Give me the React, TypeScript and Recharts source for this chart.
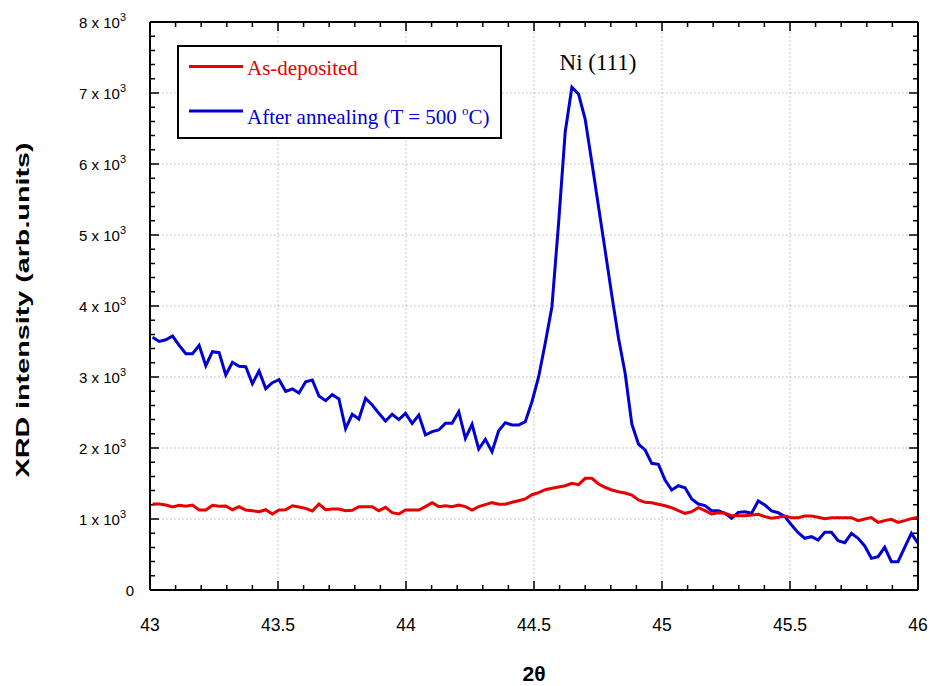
import { LineChart, Line, XAxis, YAxis, Legend, ReferenceDot } from "recharts";

const RED = "#e60000";
const BLUE = "#0000d2";
const SANS = '"Liberation Sans", Arial, sans-serif';
const SERIF = '"Liberation Serif", "Times New Roman", serif';

// 2-theta positions (deg), step ~0.026
const theta = [
  43.010, 43.036, 43.062, 43.088, 43.114, 43.140, 43.166, 43.192, 43.218, 43.244,
  43.270, 43.296, 43.322, 43.348, 43.374, 43.400, 43.426, 43.452, 43.478, 43.504,
  43.530, 43.556, 43.582, 43.608, 43.634, 43.660, 43.686, 43.712, 43.738, 43.764,
  43.790, 43.816, 43.842, 43.868, 43.894, 43.920, 43.946, 43.972, 43.998, 44.024,
  44.050, 44.076, 44.102, 44.128, 44.154, 44.180, 44.206, 44.232, 44.258, 44.284,
  44.310, 44.336, 44.362, 44.388, 44.414, 44.440, 44.466, 44.492, 44.518, 44.544,
  44.570, 44.596, 44.622, 44.648, 44.674, 44.700, 44.726, 44.752, 44.778, 44.804,
  44.830, 44.856, 44.882, 44.908, 44.934, 44.960, 44.986, 45.012, 45.038, 45.064,
  45.090, 45.116, 45.142, 45.168, 45.194, 45.220, 45.246, 45.272, 45.298, 45.324,
  45.350, 45.376, 45.402, 45.428, 45.454, 45.480, 45.506, 45.532, 45.558, 45.584,
  45.610, 45.636, 45.662, 45.688, 45.714, 45.740, 45.766, 45.792, 45.818, 45.844,
  45.870, 45.896, 45.922, 45.948, 45.974, 46.000,
];

const asDeposited = [
  1211, 1211, 1197, 1169, 1193, 1179, 1197, 1127, 1127, 1193,
  1179, 1183, 1131, 1174, 1127, 1117, 1103, 1131, 1070, 1127,
  1131, 1187, 1169, 1150, 1113, 1211, 1131, 1141, 1141, 1117,
  1122, 1174, 1174, 1174, 1117, 1164, 1089, 1070, 1127, 1127,
  1127, 1174, 1230, 1174, 1187, 1174, 1197, 1174, 1127, 1174,
  1202, 1230, 1207, 1207, 1235, 1258, 1282, 1342, 1371, 1413,
  1432, 1451, 1469, 1503, 1483, 1573, 1573, 1493, 1446, 1409,
  1385, 1366, 1338, 1268, 1235, 1230, 1207, 1187, 1159, 1117,
  1080, 1103, 1159, 1117, 1070, 1089, 1080, 1047, 1047, 1047,
  1056, 1066, 1033, 1010, 1024, 1042, 1019, 1019, 1042, 1042,
  1024, 1005, 1019, 1019, 1019, 1019, 977, 1000, 1019, 953,
  977, 996, 953, 977, 1005, 1024,
];

const annealed = [
  3559, 3500, 3525, 3577, 3446, 3328, 3328, 3446, 3160, 3357,
  3343, 3028, 3207, 3151, 3146, 2906, 3085, 2836, 2920, 2962,
  2798, 2831, 2775, 2934, 2958, 2732, 2667, 2751, 2690, 2272,
  2475, 2408, 2700, 2606, 2488, 2380, 2475, 2400, 2488, 2347,
  2465, 2183, 2230, 2254, 2347, 2347, 2512, 2136, 2334, 1986,
  2122, 1948, 2244, 2357, 2324, 2324, 2371, 2652, 3000, 3480,
  3990, 5165, 6455, 7081, 6986, 6630, 6020, 5400, 4780, 4150,
  3550, 3052, 2338, 2056, 1972, 1784, 1770, 1549, 1409, 1469,
  1441, 1282, 1211, 1188, 1117, 1117, 1080, 1010, 1094, 1103,
  1080, 1254, 1197, 1113, 1089, 1033, 916, 807, 728, 751,
  704, 812, 812, 694, 666, 798, 728, 620, 446, 469,
  601, 399, 399, 601, 798, 658,
];

const xMajor = [43, 43.5, 44, 44.5, 45, 45.5, 46];
const xMinor = [
  43.1, 43.2, 43.3, 43.4, 43.6, 43.7, 43.8, 43.9, 44.1, 44.2, 44.3, 44.4,
  44.6, 44.7, 44.8, 44.9, 45.1, 45.2, 45.3, 45.4, 45.6, 45.7, 45.8, 45.9,
];
const xGrid = [43.5, 44, 44.5, 45, 45.5];

const yMajor = [0, 1000, 2000, 3000, 4000, 5000, 6000, 7000, 8000];
const yMinor = [
  200, 400, 600, 800, 1200, 1400, 1600, 1800, 2200, 2400, 2600, 2800,
  3200, 3400, 3600, 3800, 4200, 4400, 4600, 4800, 5200, 5400, 5600, 5800,
  6200, 6400, 6600, 6800, 7200, 7400, 7600, 7800,
];
const yGrid = [1000, 2000, 3000, 4000, 5000, 6000, 7000];

const seriesNames = ["As-deposited", "After annealing (T = 500 "];

const data = theta.map((t, i) => ({ theta: t, asDep: asDeposited[i], annealed: annealed[i] }));

const X_DOMAIN: [number, number] = [43, 46];
const Y_DOMAIN: [number, number] = [0, 8000];
const FRAME = { stroke: "#000", strokeWidth: 2 };

// plot box is 768 x 568 px for 3 deg x 8000 counts: tick lengths in data units
const PX_X = 3 / 768;
const PX_Y = 8000 / 568;

type Pt = { theta: number; v: number | null };
// vertical segments at each x, broken by nulls
const vSegs = (xs: number[], from: number, to: number): Pt[] =>
  xs.flatMap((x) => [
    { theta: x, v: from },
    { theta: x, v: to },
    { theta: x, v: null },
  ]);
// horizontal segments at each y
const hSegs = (ys: number[], from: number, to: number): Pt[] =>
  ys.flatMap((y) => [
    { theta: from, v: y },
    { theta: to, v: y },
    { theta: to, v: null },
  ]);

const gridLines = [...vSegs(xGrid, 0, 8000), ...hSegs(yGrid, 43, 46)];
const majorTicks = [
  ...vSegs(xMajor, 0, 9 * PX_Y),
  ...vSegs(xMajor, 8000, 8000 - 9 * PX_Y),
  ...hSegs(yMajor, 43, 43 + 9 * PX_X),
  ...hSegs(yMajor, 46, 46 - 9 * PX_X),
];
const minorTicks = [
  ...vSegs(xMinor, 0, 5 * PX_Y),
  ...vSegs(xMinor, 8000, 8000 - 5 * PX_Y),
  ...hSegs(yMinor, 43, 43 + 5 * PX_X),
  ...hSegs(yMinor, 46, 46 - 5 * PX_X),
];

function BottomTick({ x, y, payload }: any) {
  return (
    <text x={x} y={y + 41} textAnchor="middle" fontSize={17.5} fontFamily={SANS} fill="#000">
      {String(Math.round(payload.value * 10) / 10)}
    </text>
  );
}

function LeftTick({ x, y, payload }: any) {
  const v = payload.value;
  if (v === 0) {
    return (
      <text x={x - 16} y={y + 5.5} textAnchor="end" fontSize={15} fontFamily={SANS} fill="#000">
        0
      </text>
    );
  }
  return (
    <text x={x - 24} y={y + 5.5} textAnchor="end" fontSize={15} fontFamily={SANS} fill="#000">
      {`${v / 1000} x 10`}
      <tspan dy={-7} fontSize={11}>3</tspan>
    </text>
  );
}

function LegendBox() {
  return (
    <svg width={326} height={95} style={{ display: "block" }}>
      <rect x={1} y={1} width={323} height={92} fill="#fff" stroke="#000" strokeWidth={2} />
      <line x1={12} x2={66} y1={21.5} y2={21.5} stroke={RED} strokeWidth={3} />
      <text x={70} y={30} fill={RED} fontSize={21} fontFamily={SERIF}>
        {seriesNames[0]}
      </text>
      <line x1={12} x2={66} y1={66} y2={66} stroke={BLUE} strokeWidth={3} />
      <text x={70} y={79} fill={BLUE} fontSize={21} fontFamily={SERIF}>
        {seriesNames[1]}
        <tspan dy={-9} fontSize={13}>o</tspan>
        <tspan dy={9}>C)</tspan>
      </text>
    </svg>
  );
}

export default function App() {
  return (
    <div style={{ position: "absolute", left: 0, top: 0, background: "#fff" }}>
      <LineChart width={930} height={686} data={data} margin={{ top: 22, right: 12, bottom: 36, left: 0 }}>
        <XAxis
          dataKey="theta"
          type="number"
          domain={X_DOMAIN}
          allowDataOverflow
          ticks={xMajor}
          interval={0}
          height={60}
          tickSize={0}
          tickMargin={0}
          tickLine={false}
          axisLine={FRAME}
          tick={(p: any) => <BottomTick {...p} />}
          label={{
            content: ({ viewBox }: any) => (
              <text
                x={viewBox.x + viewBox.width / 2}
                y={viewBox.y + viewBox.height + 31}
                textAnchor="middle"
                fontSize={21}
                fontWeight="bold"
                fontFamily={SANS}
                fill="#000"
              >
                2θ
              </text>
            ),
          }}
        />
        <XAxis
          xAxisId="top"
          orientation="top"
          mirror
          type="number"
          domain={X_DOMAIN}
          allowDataOverflow
          height={1}
          tick={false}
          tickLine={false}
          axisLine={FRAME}
        />
        <YAxis
          type="number"
          domain={Y_DOMAIN}
          allowDataOverflow
          ticks={yMajor}
          interval={0}
          width={150}
          tickSize={0}
          tickMargin={0}
          tickLine={false}
          axisLine={FRAME}
          tick={(p: any) => <LeftTick {...p} />}
          label={{
            content: ({ viewBox }: any) => {
              const cy = viewBox.y + viewBox.height / 2 + 4;
              return (
                <text
                  x={23}
                  y={cy}
                  transform={`rotate(-90 23 ${cy})`}
                  textAnchor="middle"
                  dominantBaseline="central"
                  fontSize={18}
                  fontWeight="bold"
                  fontFamily={SANS}
                  textLength={335}
                  lengthAdjust="spacingAndGlyphs"
                  fill="#000"
                >
                  XRD intensity (arb.units)
                </text>
              );
            },
          }}
        />
        <YAxis
          yAxisId="right"
          orientation="right"
          mirror
          type="number"
          domain={Y_DOMAIN}
          allowDataOverflow
          width={1}
          tick={false}
          tickLine={false}
          axisLine={FRAME}
        />
        <Line
          data={gridLines}
          dataKey="v"
          type="linear"
          stroke="#b4b4b4"
          strokeWidth={1}
          strokeDasharray="1.5 2.5"
          dot={false}
          activeDot={false}
          connectNulls={false}
          isAnimationActive={false}
        />
        <Line
          data={majorTicks}
          dataKey="v"
          type="linear"
          stroke="#000"
          strokeWidth={1.5}
          dot={false}
          activeDot={false}
          connectNulls={false}
          isAnimationActive={false}
        />
        <Line
          data={minorTicks}
          dataKey="v"
          type="linear"
          stroke="#000"
          strokeWidth={1.5}
          dot={false}
          activeDot={false}
          connectNulls={false}
          isAnimationActive={false}
        />
        <Line
          type="linear"
          dataKey="annealed"
          stroke={BLUE}
          strokeWidth={3}
          dot={false}
          isAnimationActive={false}
        />
        <Line
          type="linear"
          dataKey="asDep"
          stroke={RED}
          strokeWidth={3}
          dot={false}
          isAnimationActive={false}
        />
        <ReferenceDot
          x={44.75}
          y={7440}
          r={0}
          fill="none"
          stroke="none"
          ifOverflow="visible"
          label={{ value: "Ni (111)", position: "center", fontSize: 23, fontFamily: SERIF, fill: "#000" }}
        />
        <Legend
          layout="horizontal"
          verticalAlign="middle"
          align="center"
          content={() => <LegendBox />}
          wrapperStyle={{ position: "absolute", left: 177, top: 45, width: 326, height: 95 }}
        />
      </LineChart>
    </div>
  );
}
